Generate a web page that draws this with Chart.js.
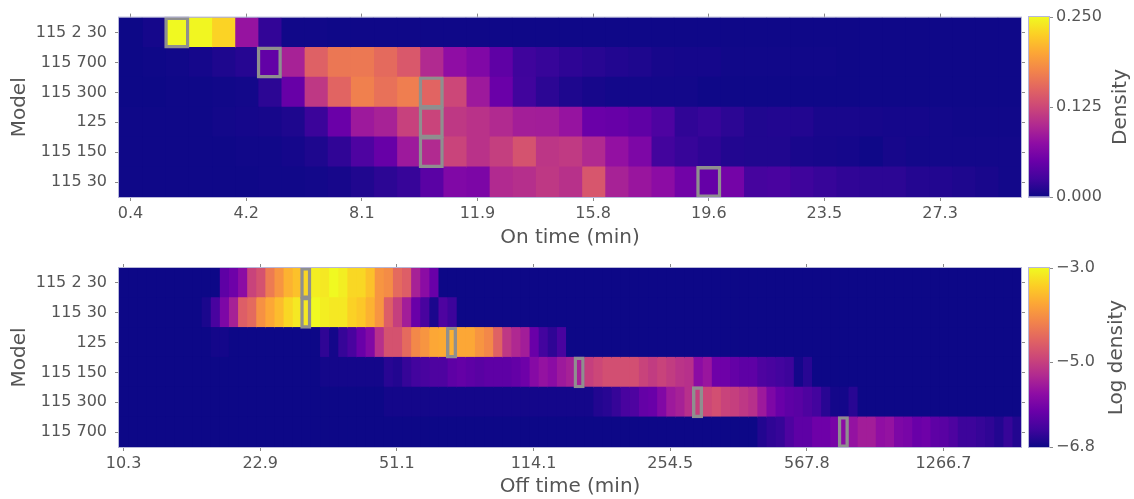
<!DOCTYPE html>
<html>
<head>
<meta charset="utf-8">
<script src="https://cdn.jsdelivr.net/npm/chart.js@4.4.1/dist/chart.umd.min.js"></script>
<style>
  html, body { margin: 0; padding: 0; background: #ffffff; width: 1134px; height: 499px; overflow: hidden; }
  canvas { position: absolute; }
</style>
</head>
<body>
<canvas id="onMap" width="1030" height="250" style="left:0;top:0"></canvas>
<canvas id="onBar" width="114" height="250" style="left:1020px;top:0"></canvas>
<canvas id="offMap" width="1030" height="249" style="left:0;top:250px"></canvas>
<canvas id="offBar" width="114" height="249" style="left:1020px;top:250px"></canvas>
<script>
// ---- On-time histogram: density per 0.77-min bin, 39 bins ----
const onModels = ['115 2 30', '115 700', '115 300', '125', '115 150', '115 30'];
const onTickLabels = ['0.4', '4.2', '8.1', '11.9', '15.8', '19.6', '23.5', '27.3'];
const onTickStep = 5;
const onMarkBins = [2, 6, 13, 13, 13, 25];

const on_115_2_30 = [0.000,0.004,0.250,0.248,0.228,0.080,0.018,0.002,0.002,0.001,
                     0.001,0.001,0.001,0.001,0.001,0.001,0.001,0.001,0.001,0.001,
                     0.001,0.001,0.001,0.001,0.001,0.001,0.001,0.001,0.001,0.001,
                     0.001,0.001,0.001,0.001,0.001,0.001,0.001,0.001,0.001];
const on_115_700  = [0.000,0.001,0.002,0.004,0.008,0.012,0.045,0.093,0.147,0.165,
                     0.166,0.155,0.140,0.100,0.075,0.065,0.043,0.024,0.020,0.016,
                     0.013,0.010,0.008,0.005,0.004,0.004,0.002,0.002,0.002,0.002,
                     0.002,0.001,0.001,0.001,0.001,0.001,0.001,0.001,0.001];
const on_115_300  = [0.000,0.000,0.001,0.001,0.002,0.003,0.015,0.048,0.112,0.150,
                     0.172,0.160,0.170,0.150,0.125,0.085,0.050,0.025,0.015,0.008,
                     0.005,0.003,0.003,0.003,0.003,0.001,0.001,0.001,0.001,0.001,
                     0.001,0.001,0.001,0.001,0.001,0.001,0.001,0.001,0.001];
const on_125      = [0.001,0.001,0.001,0.001,0.003,0.004,0.005,0.008,0.022,0.050,
                     0.085,0.093,0.120,0.122,0.112,0.107,0.100,0.090,0.089,0.080,
                     0.050,0.048,0.043,0.033,0.017,0.020,0.015,0.009,0.010,0.010,
                     0.006,0.006,0.005,0.004,0.004,0.003,0.002,0.002,0.002];
const on_115_150  = [0.001,0.001,0.001,0.001,0.001,0.002,0.002,0.004,0.008,0.017,
                     0.033,0.048,0.085,0.100,0.122,0.107,0.118,0.135,0.110,0.114,
                     0.100,0.078,0.063,0.026,0.020,0.016,0.010,0.009,0.009,0.006,
                     0.005,0.004,0.001,0.005,0.003,0.003,0.003,0.003,0.003];
const on_115_30   = [0.001,0.001,0.001,0.001,0.001,0.001,0.002,0.002,0.003,0.005,
                     0.009,0.015,0.020,0.040,0.065,0.062,0.100,0.104,0.112,0.106,
                     0.138,0.093,0.082,0.073,0.055,0.047,0.057,0.028,0.030,0.024,
                     0.020,0.017,0.015,0.015,0.011,0.010,0.008,0.006,0.003];

// ---- Off-time histogram: log density per log-spaced bin, 99 bins ----
const offModels = ['115 2 30', '115 30', '125', '115 150', '115 300', '115 700'];
const offTickLabels = ['10.3', '22.9', '51.1', '114.1', '254.5', '567.8', '1266.7'];
const offTickStep = 15;
const offMarkBins = [20, 20, 36, 50, 63, 79];

const off_115_2_30 = [-6.8,-6.8,-6.8,-6.8,-6.8,-6.8,-6.8,-6.8,-6.8,-6.8,
                      -6.8,-6.15,-6.0,-5.7,-4.95,-4.75,-4.25,-3.95,-3.65,-3.5,
                      -3.3,-3.1,-3.15,-3.0,-3.1,-3.3,-3.3,-3.5,-3.95,-4.05,
                      -4.45,-4.6,-5.4,-5.7,-6.05,-6.8,-6.8,-6.8,-6.8,-6.8,
                      -6.8,-6.8,-6.8,-6.8,-6.8,-6.8,-6.8,-6.8,-6.8,-6.8,
                      -6.8,-6.8,-6.8,-6.8,-6.8,-6.8,-6.8,-6.8,-6.8,-6.8,
                      -6.8,-6.8,-6.8,-6.8,-6.8,-6.8,-6.8,-6.8,-6.8,-6.8,
                      -6.8,-6.8,-6.8,-6.8,-6.8,-6.8,-6.8,-6.8,-6.8,-6.8,
                      -6.8,-6.8,-6.8,-6.8,-6.8,-6.8,-6.8,-6.8,-6.8,-6.8,
                      -6.8,-6.8,-6.8,-6.8,-6.8,-6.8,-6.8,-6.8,-6.8];
const off_115_30   = [-6.8,-6.8,-6.8,-6.8,-6.8,-6.8,-6.8,-6.8,-6.8,-6.7,
                      -6.35,-5.85,-5.4,-4.6,-4.45,-4.0,-3.75,-3.55,-3.3,-3.15,
                      -3.15,-3.0,-3.1,-3.15,-3.15,-3.35,-3.45,-3.65,-3.95,-4.6,
                      -5.0,-5.45,-6.05,-6.35,-6.7,-6.3,-6.45,-6.8,-6.8,-6.8,
                      -6.8,-6.8,-6.8,-6.8,-6.8,-6.8,-6.8,-6.8,-6.8,-6.8,
                      -6.8,-6.8,-6.8,-6.8,-6.8,-6.8,-6.8,-6.8,-6.8,-6.8,
                      -6.8,-6.8,-6.8,-6.8,-6.8,-6.8,-6.8,-6.8,-6.8,-6.8,
                      -6.8,-6.8,-6.8,-6.8,-6.8,-6.8,-6.8,-6.8,-6.8,-6.8,
                      -6.8,-6.8,-6.8,-6.8,-6.8,-6.8,-6.8,-6.8,-6.8,-6.8,
                      -6.8,-6.8,-6.8,-6.8,-6.8,-6.8,-6.8,-6.8,-6.8];
const off_125      = [-6.8,-6.8,-6.8,-6.8,-6.8,-6.8,-6.8,-6.8,-6.8,-6.8,
                      -6.75,-6.75,-6.8,-6.8,-6.8,-6.8,-6.8,-6.8,-6.8,-6.8,
                      -6.8,-6.8,-6.55,-6.75,-6.5,-6.35,-6.05,-5.8,-5.2,-4.75,
                      -4.75,-4.45,-4.1,-3.95,-3.75,-3.72,-3.65,-3.75,-3.75,-3.95,
                      -4.1,-4.55,-5.1,-5.3,-5.45,-6.05,-6.4,-6.55,-6.35,-6.8,
                      -6.8,-6.8,-6.8,-6.8,-6.8,-6.8,-6.8,-6.8,-6.8,-6.8,
                      -6.8,-6.8,-6.8,-6.8,-6.8,-6.8,-6.8,-6.8,-6.8,-6.8,
                      -6.8,-6.8,-6.8,-6.8,-6.8,-6.8,-6.8,-6.8,-6.8,-6.8,
                      -6.8,-6.8,-6.8,-6.8,-6.8,-6.8,-6.8,-6.8,-6.8,-6.8,
                      -6.8,-6.8,-6.8,-6.8,-6.8,-6.8,-6.8,-6.8,-6.8];
const off_115_150  = [-6.8,-6.8,-6.8,-6.8,-6.8,-6.8,-6.8,-6.8,-6.8,-6.8,
                      -6.8,-6.8,-6.8,-6.8,-6.8,-6.8,-6.8,-6.8,-6.8,-6.8,
                      -6.8,-6.8,-6.75,-6.75,-6.75,-6.75,-6.75,-6.75,-6.75,-6.6,
                      -6.65,-6.5,-6.4,-6.35,-6.3,-6.3,-6.15,-6.1,-6.15,-6.2,
                      -6.15,-6.15,-6.15,-6.1,-6.0,-5.75,-5.6,-5.7,-5.5,-5.4,
                      -5.4,-5.0,-4.9,-4.8,-4.8,-4.8,-4.8,-4.95,-5.05,-4.95,
                      -5.05,-5.15,-5.2,-5.7,-5.55,-6.0,-6.0,-6.1,-6.15,-6.15,
                      -6.3,-6.35,-6.4,-6.45,-6.75,-6.6,-6.8,-6.8,-6.8,-6.8,
                      -6.8,-6.8,-6.8,-6.8,-6.8,-6.8,-6.8,-6.8,-6.8,-6.8,
                      -6.8,-6.8,-6.8,-6.8,-6.8,-6.8,-6.8,-6.8,-6.8];
const off_115_300  = [-6.8,-6.8,-6.8,-6.8,-6.8,-6.8,-6.8,-6.8,-6.8,-6.8,
                      -6.8,-6.8,-6.8,-6.8,-6.8,-6.8,-6.8,-6.8,-6.8,-6.8,
                      -6.8,-6.8,-6.8,-6.8,-6.8,-6.8,-6.8,-6.8,-6.8,-6.75,
                      -6.75,-6.75,-6.75,-6.75,-6.75,-6.75,-6.75,-6.75,-6.75,-6.75,
                      -6.75,-6.75,-6.75,-6.75,-6.75,-6.75,-6.75,-6.75,-6.75,-6.75,
                      -6.75,-6.75,-6.65,-6.6,-6.5,-6.35,-6.3,-6.1,-6.05,-5.8,
                      -5.5,-5.4,-5.2,-5.0,-4.9,-4.8,-4.95,-5.0,-5.1,-5.2,
                      -5.5,-5.85,-6.05,-6.15,-6.2,-6.3,-6.4,-6.6,-6.75,-6.75,
                      -6.6,-6.8,-6.8,-6.8,-6.8,-6.8,-6.8,-6.8,-6.8,-6.8,
                      -6.8,-6.8,-6.8,-6.8,-6.8,-6.8,-6.8,-6.8,-6.8];
const off_115_700  = [-6.8,-6.8,-6.8,-6.8,-6.8,-6.8,-6.8,-6.8,-6.8,-6.8,
                      -6.8,-6.8,-6.8,-6.8,-6.8,-6.8,-6.8,-6.8,-6.8,-6.8,
                      -6.8,-6.8,-6.8,-6.8,-6.8,-6.8,-6.8,-6.8,-6.8,-6.8,
                      -6.8,-6.8,-6.8,-6.8,-6.8,-6.8,-6.8,-6.8,-6.8,-6.8,
                      -6.8,-6.8,-6.8,-6.8,-6.8,-6.8,-6.8,-6.8,-6.8,-6.8,
                      -6.8,-6.8,-6.8,-6.8,-6.8,-6.8,-6.8,-6.8,-6.8,-6.8,
                      -6.8,-6.8,-6.8,-6.8,-6.8,-6.8,-6.8,-6.8,-6.8,-6.8,
                      -6.65,-6.55,-6.5,-6.3,-6.15,-6.15,-6.0,-6.0,-5.9,-5.7,
                      -5.6,-5.45,-5.45,-5.65,-5.6,-5.85,-5.9,-6.05,-6.0,-6.15,
                      -6.2,-6.3,-6.45,-6.45,-6.5,-6.55,-6.65,-6.5,-6.65];

const onRows  = [on_115_2_30, on_115_700, on_115_300, on_125, on_115_150, on_115_30];
const offRows = [off_115_2_30, off_115_30, off_125, off_115_150, off_115_300, off_115_700];

const onColorTicks = [0, 0.125, 0.25];
const onColorLabels = ['0.000', '0.125', '0.250'];
const offColorTicks = [-6.8, -5.0, -3.0];
const offColorLabels = ['\u22126.8', '\u22125.0', '\u22123.0'];

// ---- styling ----
const FONT = 'DejaVu Sans';
const TEXT = '#555555';
const TICK = '#8a8a8a';
const SPINE = '#b7b7d9';
const MARK = '#8f8f8f';
const PLASMA = ['#0d0887', '#41049d', '#6a00a8', '#8f0da4', '#b12a90', '#cc4778',
                '#e16462', '#f2844b', '#fca636', '#fcce25', '#f0f921'];

function hexRgb(h) {
  const n = parseInt(h.slice(1), 16);
  return [(n >> 16) & 255, (n >> 8) & 255, n & 255];
}
const PLASMA_RGB = PLASMA.map(hexRgb);

function plasma(t) {
  t = Math.min(1, Math.max(0, t));
  const p = t * (PLASMA_RGB.length - 1);
  const i = Math.min(PLASMA_RGB.length - 2, Math.floor(p));
  const f = p - i;
  const a = PLASMA_RGB[i], b = PLASMA_RGB[i + 1];
  const c = a.map((v, k) => Math.round(v + (b[k] - v) * f));
  return `rgb(${c[0]},${c[1]},${c[2]})`;
}

// Fills the plot area with the colormap floor and outlines it afterwards.
const framePlugin = {
  id: 'frame',
  beforeDatasetsDraw(chart, args, opts) {
    if (!opts.fill) return;
    const a = chart.chartArea, ctx = chart.ctx;
    ctx.save();
    ctx.fillStyle = opts.fill;
    ctx.fillRect(a.left, a.top, a.right - a.left, a.bottom - a.top);
    ctx.restore();
  },
  afterDatasetsDraw(chart, args, opts) {
    const a = chart.chartArea, ctx = chart.ctx;
    ctx.save();
    ctx.strokeStyle = SPINE;
    ctx.lineWidth = 1;
    ctx.strokeRect(a.left - 0.5, a.top - 0.5, a.right - a.left + 1, a.bottom - a.top + 1);
    ctx.restore();
  }
};

// Colorbar label, rotated to read bottom-to-top.
const sideTitlePlugin = {
  id: 'sideTitle',
  afterDraw(chart, args, opts) {
    if (!opts.text) return;
    const a = chart.chartArea, ctx = chart.ctx;
    ctx.save();
    ctx.translate(opts.x, (a.top + a.bottom) / 2);
    ctx.rotate(-Math.PI / 2);
    ctx.font = `20px "${FONT}"`;
    ctx.fillStyle = TEXT;
    ctx.textAlign = 'center';
    ctx.textBaseline = 'middle';
    ctx.fillText(opts.text, 0, 0);
    ctx.restore();
  }
};

Chart.register(framePlugin, sideTitlePlugin);

function heatmap(id, models, rows, tickLabels, tickStep, markBins, vmin, vmax, xTitle, padTop, axisH) {
  const binCount = rows[0].length;
  const datasets = [];
  for (let b = 0; b < binCount; b++) {
    datasets.push({
      data: models.map(() => [b, b + 1]),
      backgroundColor: rows.map(r => plasma((r[b] - vmin) / (vmax - vmin))),
      borderWidth: 0,
      inflateAmount: 0.6,
      order: 1
    });
  }
  datasets.push({
    data: markBins.map(b => [b, b + 1]),
    backgroundColor: 'rgba(0,0,0,0)',
    borderColor: MARK,
    borderWidth: 1.4,
    borderSkipped: false,
    inflateAmount: 1,
    clip: 4,
    order: 0
  });

  const tickFont = { family: FONT, size: 16 };
  const xTicks = s => { s.ticks = tickLabels.map((_, i) => ({ value: i * tickStep + 0.5 })); };
  const grid = { display: true, drawOnChartArea: false, drawTicks: true, tickLength: 4, color: TICK, lineWidth: 1 };

  return new Chart(document.getElementById(id), {
    type: 'bar',
    data: { labels: models, datasets },
    options: {
      indexAxis: 'y',
      responsive: false,
      animation: false,
      events: [],
      grouped: false,
      barPercentage: 1,
      categoryPercentage: 1,
      layout: { padding: { top: padTop, right: 9, left: 0, bottom: 0 } },
      plugins: { legend: { display: false }, tooltip: { enabled: false }, frame: { fill: PLASMA[0] } },
      scales: {
        x: {
          type: 'linear', position: 'bottom', min: 0, max: binCount, bounds: 'data',
          afterBuildTicks: xTicks,
          ticks: { autoSkip: false, maxRotation: 0, font: tickFont, color: TEXT, padding: 3,
                   callback: (v, i) => tickLabels[i] },
          grid, border: { display: false },
          title: { display: true, text: xTitle, font: { family: FONT, size: 20 }, color: TEXT,
                   padding: { top: 0, bottom: 0 } },
          afterFit: s => { s.height = axisH; }
        },
        x2: {
          type: 'linear', position: 'top', min: 0, max: binCount, bounds: 'data',
          afterBuildTicks: xTicks,
          ticks: { display: false },
          grid, border: { display: false },
          afterFit: s => { s.height = 0; }
        },
        y: {
          type: 'category', position: 'left',
          ticks: { font: tickFont, color: TEXT, padding: 8 },
          grid: Object.assign({ offset: false }, grid), border: { display: false },
          title: { display: true, text: 'Model', font: { family: FONT, size: 20 }, color: TEXT,
                   padding: { top: 8, bottom: 0 } },
          afterFit: s => { s.width = 119; }
        },
        y2: {
          type: 'category', position: 'right', labels: models,
          ticks: { display: false },
          grid: Object.assign({ offset: false }, grid), border: { display: false },
          afterFit: s => { s.width = 0; }
        }
      }
    }
  });
}

function colorbar(id, vmin, vmax, ticks, labels, title, titleX, padTop, padBottom) {
  return new Chart(document.getElementById(id), {
    type: 'bar',
    data: {
      labels: [''],
      datasets: [{
        data: [[vmin, vmax]],
        borderWidth: 0,
        inflateAmount: 0,
        backgroundColor: ctx => {
          const chart = ctx.chart, a = chart.chartArea;
          if (!a || !isFinite(a.top) || !isFinite(a.bottom)) return PLASMA[0];
          const g = chart.ctx.createLinearGradient(0, a.bottom, 0, a.top);
          PLASMA.forEach((c, i) => g.addColorStop(i / (PLASMA.length - 1), c));
          return g;
        }
      }]
    },
    options: {
      responsive: false,
      animation: false,
      events: [],
      barPercentage: 1,
      categoryPercentage: 1,
      layout: { padding: { top: padTop, bottom: padBottom, left: 9, right: 0 } },
      plugins: { legend: { display: false }, tooltip: { enabled: false },
                 frame: { fill: null }, sideTitle: { text: title, x: titleX } },
      scales: {
        x: { display: false },
        y: {
          position: 'right', min: vmin, max: vmax,
          afterBuildTicks: s => { s.ticks = ticks.map(v => ({ value: v })); },
          ticks: { font: { family: FONT, size: 16 }, color: TEXT, padding: 3,
                   callback: (v, i) => labels[i] },
          grid: { display: true, drawOnChartArea: false, tickLength: 4, color: TICK },
          border: { display: false },
          afterFit: s => { s.width = 85; }
        }
      }
    }
  });
}

heatmap('onMap', onModels, onRows, onTickLabels, onTickStep, onMarkBins, 0, 0.25, 'On time (min)', 17, 53);
colorbar('onBar', 0, 0.25, onColorTicks, onColorLabels, 'Density', 101, 17, 53);
heatmap('offMap', offModels, offRows, offTickLabels, offTickStep, offMarkBins, -6.8, -3.0, 'Off time (min)', 18, 52);
colorbar('offBar', -6.8, -3.0, offColorTicks, offColorLabels, 'Log density', 97, 18, 52);
</script>
</body>
</html>
